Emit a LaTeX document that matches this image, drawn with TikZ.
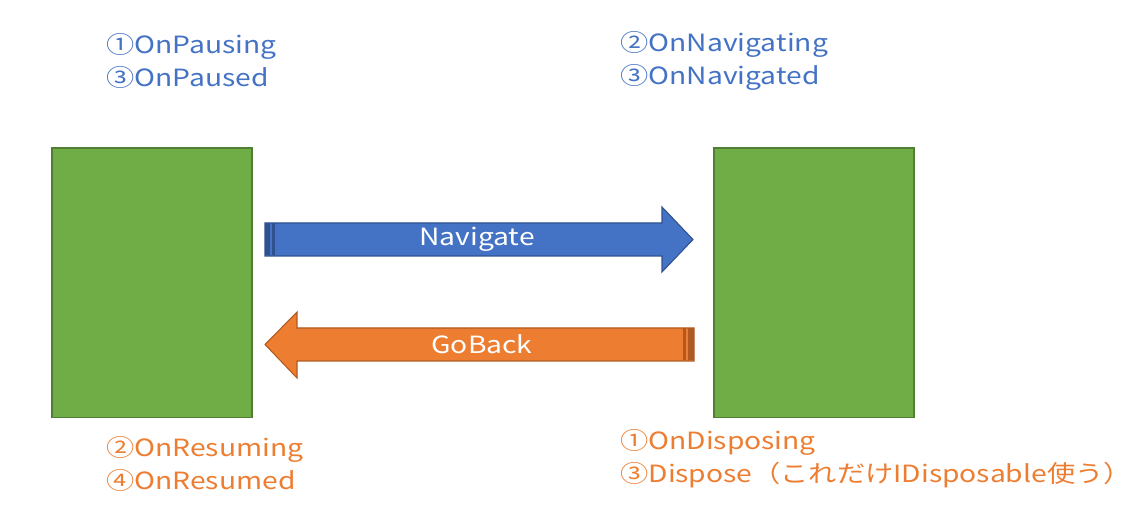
\documentclass[tikz,border=0pt]{standalone}
\usepackage{fontspec}
\setmainfont{Noto Sans CJK JP}[FakeStretch=1.19]
\usetikzlibrary{positioning}
\definecolor{pagegreen}{RGB}{112,173,71}
\definecolor{pagegreenline}{RGB}{80,126,50}
\definecolor{navblue}{RGB}{68,114,196}
\definecolor{navblueline}{RGB}{47,82,143}
\definecolor{backorange}{RGB}{237,125,49}
\definecolor{backorangeline}{RGB}{174,90,33}

\begin{document}
\begin{tikzpicture}[
        x=0.02cm, y=-0.02cm,
        page/.style={draw=pagegreenline, fill=pagegreen, line width=0.6pt, minimum width=4cm, minimum height=5.4cm, inner sep=0pt},
        event/.style={align=left, anchor=west, inner sep=0pt, text=#1, font=\fontsize{13.5pt}{18.8pt}\selectfont},
        shaft/.style={draw=#1line, fill=#1, line width=0.6pt, line join=miter},
        stripe/.style={fill=#1line, draw=none},
        label/.style={text=white, inner sep=0pt, font=\fontsize{13.5pt}{16pt}\selectfont}
    ]
        \useasboundingbox (0,0) rectangle (1147,513);

        % Pages
        \node[page] (from) at (152,283) {};
        \node[page] (to) at (814,283) {};

        % Navigate arrow
        \coordinate (navtail) at (265,239.5);
        \coordinate (navtip) at (693,239.5);
        \draw[shaft=navblue] (265,223) -- (662,223) -- (662,207) -- (navtip) -- (662,272) -- (662,256) -- (265,256) -- cycle;
        \fill[stripe=navblue] (265,223.5) rectangle (270,255.5);
        \fill[stripe=navblue] (272,223.5) rectangle (274.5,255.5);
        \node[label] (nav) at (477,239.5) {Navigate};

        % GoBack arrow
        \coordinate (backtail) at (694,344.5);
        \coordinate (backtip) at (265,344.5);
        \draw[shaft=backorange] (694,328) -- (297,328) -- (297,312) -- (backtip) -- (297,378) -- (297,361) -- (694,361) -- cycle;
        \fill[stripe=backorange] (683,328.5) rectangle (685.5,360.5);
        \fill[stripe=backorange] (688,328.5) rectangle (694,360.5);
        \node[label] (back) at (482,344.5) {GoBack};

        % Events
        \node[event=navblue] (pausing) at (106,61) {①OnPausing\\③OnPaused};
        \node[event=navblue] (navigating) at (620,61) {②OnNavigating\\③OnNavigated};
        \node[event=backorange] (resuming) at (106,464) {②OnResuming\\④OnResumed};
        \node[event=backorange] (disposing) at (620,459) {①OnDisposing\\③Dispose（これだけIDisposable使う）};

\end{tikzpicture}
\end{document}
